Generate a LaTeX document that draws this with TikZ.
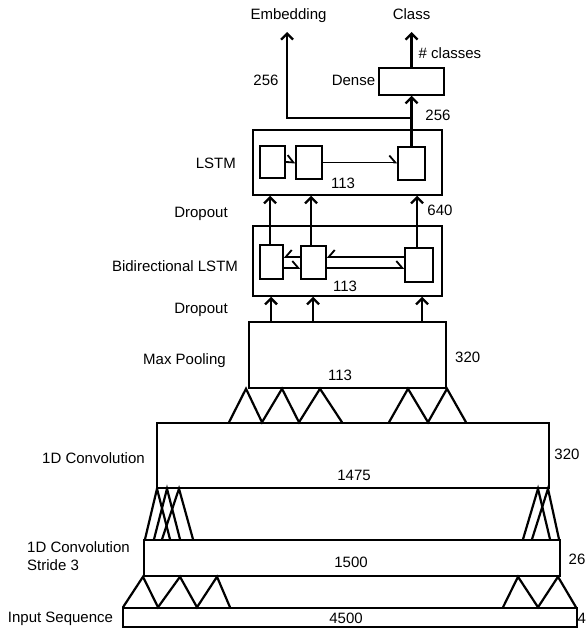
\documentclass[tikz,border=0pt]{standalone}
\usepackage{fontspec}
\setmainfont{Liberation Sans}
\usetikzlibrary{arrows.meta,calc}
\begin{document}
\begin{tikzpicture}[x=1pt,y=-1pt,
  box/.style={draw, line width=1.5pt, inner sep=0pt},
  cell/.style={draw, line width=1.5pt, inner sep=0pt},
  lbl/.style={font=\fontsize{15}{18}\selectfont, inner sep=0pt, text height=10.8pt, text depth=0pt},
  arr/.style={line width=2.3pt, -{Straight Barb[length=6pt,width=12pt]}},
  tickl/.style={line width=1.8pt, -{Straight Barb[left,length=6pt,width=14pt]}},
  tickr/.style={line width=1.8pt, -{Straight Barb[right,length=6pt,width=14pt]}},
  kern/.style={line width=2.2pt}]
\useasboundingbox (0,0) rectangle (586,631);

% boxes
\node[box, minimum width=454pt, minimum height=19pt] (input) at (350,617.5) {};
\node[box, minimum width=416pt, minimum height=36pt] (conva) at (352,558) {};
\node[box, minimum width=392pt, minimum height=65pt] (convb) at (353,455.5) {};
\node[box, minimum width=197pt, minimum height=66pt] (pool) at (347.5,355) {};
\node[box, minimum width=189pt, minimum height=70pt] (bi) at (347.5,261) {};
\node[box, minimum width=189pt, minimum height=65pt] (lstm) at (347.5,162.5) {};
\node[box, minimum width=65pt, minimum height=27pt] (dense) at (411.5,81.5) {};

% LSTM cells
\node[cell, minimum width=25pt, minimum height=32pt] (l1) at (272.5,162) {};
\node[cell, minimum width=26pt, minimum height=33pt] (l2) at (309,162.5) {};
\node[cell, minimum width=27pt, minimum height=33pt] (l3) at (411.5,163.5) {};
% BiLSTM cells
\node[cell, minimum width=23pt, minimum height=34pt] (b1) at (271.5,262) {};
\node[cell, minimum width=25pt, minimum height=33pt] (b2) at (313.5,262.5) {};
\node[cell, minimum width=28pt, minimum height=34pt] (b3) at (419,265) {};

% labels
\node[lbl] (tEmb) at (288.5,14.3) {Embedding};
\node[lbl] (tCls) at (411.5,14.3) {Class};
\node[lbl] (tNcl) at (450,53) {\# classes};
\node[lbl] (tE256) at (266,80) {256};
\node[lbl] (tDense) at (353.5,80) {Dense};
\node[lbl] (tD256) at (438,115.5) {256};
\node[lbl, anchor=east] (tLstm) at (236,163) {LSTM};
\node[lbl] (tL113) at (343,183) {113};
\node[lbl] (tDrop1) at (201,212) {Dropout};
\node[lbl] (t640) at (440,210.5) {640};
\node[lbl] (tBi) at (175,266) {Bidirectional LSTM};
\node[lbl] (tB113) at (345,286) {113};
\node[lbl] (tDrop2) at (201,308) {Dropout};
\node[lbl] (tPool) at (184.5,359.5) {Max Pooling};
\node[lbl] (tP113) at (340,375.5) {113};
\node[lbl, anchor=west] (tP320) at (455,357) {320};
\node[lbl] (tConv) at (93.5,458) {1D Convolution};
\node[lbl] (t1475) at (354,475.5) {1475};
\node[lbl] (tC320) at (567,454.5) {320};
\node[lbl, anchor=west] (tConvS) at (27,546.7) {1D Convolution};
\node[lbl, anchor=west] (tStride) at (27,565.3) {Stride 3};
\node[lbl] (t1500) at (351,562.5) {1500};
\node[lbl, anchor=west] (t26) at (568.5,559) {26};
\node[lbl] (tIn) at (60.5,617.5) {Input Sequence};
\node[lbl] (t4500) at (346,617.7) {4500};
\node[lbl, anchor=west] (t4) at (577.3,618) {4};

% output arrows
\coordinate (emb) at (287,32);
\coordinate (cls) at (411.5,32);
\coordinate (split) at (411.5,118);
\draw[arr] (l3.north) -- (l3.north |- dense.south);
\draw[arr] (split) -| (emb);
\draw[arr] (dense.north) -- (cls);

% LSTM internal
\draw[tickl] (l1.east) -- (l2.west);
\draw[tickl] (l2.east) -- (l3.west |- l2.east);

% Bi -> LSTM
\draw[arr] (270,0 |- b1.north) -- (270,0 |- lstm.south);
\draw[arr] (311,0 |- b2.north) -- (311,0 |- lstm.south);
\draw[arr] (417,0 |- b3.north) -- (417,0 |- lstm.south);

% Bi internal
\draw[tickr] (b3.west |- 0,257) -- (b2.east |- 0,257);
\draw[tickr] (b2.west |- 0,257) -- (b1.east |- 0,257);
\draw[tickl] (b1.east |- 0,268) -- (b2.west |- 0,268);
\draw[tickl] (b2.east |- 0,268) -- (b3.west |- 0,268);

% Pool -> Bi
\draw[arr] (271,0 |- pool.north) -- (271,0 |- bi.south);
\draw[arr] (313,0 |- pool.north) -- (313,0 |- bi.south);
\draw[arr] (422,0 |- pool.north) -- (422,0 |- bi.south);

% kernels: conv(1475) -> pool
\draw[kern] (229,0 |- convb.north) -- (246,0 |- pool.south) -- (262,0 |- convb.north)
  -- (282,0 |- pool.south) -- (299,0 |- convb.north) -- (320,0 |- pool.south) -- (342,0 |- convb.north);
\draw[kern] (389,0 |- convb.north) -- (408,0 |- pool.south) -- (428,0 |- convb.north)
  -- (447,0 |- pool.south) -- (466,0 |- convb.north);

% kernels: conv stride3 -> conv 1475
\draw[kern] (145,0 |- conva.north) -- (157,0 |- convb.south) -- (170,0 |- conva.north);
\draw[kern] (154,0 |- conva.north) -- (167,0 |- convb.south) -- (180,0 |- conva.north);
\draw[kern] (162,0 |- conva.north) -- (179,0 |- convb.south) -- (193,0 |- conva.north);
\draw[kern] (523,0 |- conva.north) -- (538,0 |- convb.south) -- (550,0 |- conva.north);
\draw[kern] (532,0 |- conva.north) -- (548,0 |- convb.south) -- (559,0 |- conva.north);

% kernels: input -> conv stride3
\draw[kern] (123,0 |- input.north) -- (143,0 |- conva.south) -- (158,0 |- input.north)
  -- (180,0 |- conva.south) -- (197,0 |- input.north) -- (217,0 |- conva.south) -- (230,0 |- input.north);
\draw[kern] (503,0 |- input.north) -- (518,0 |- conva.south) -- (538,0 |- input.north)
  -- (558,0 |- conva.south) -- (576,0 |- input.north);
\end{tikzpicture}
\end{document}
